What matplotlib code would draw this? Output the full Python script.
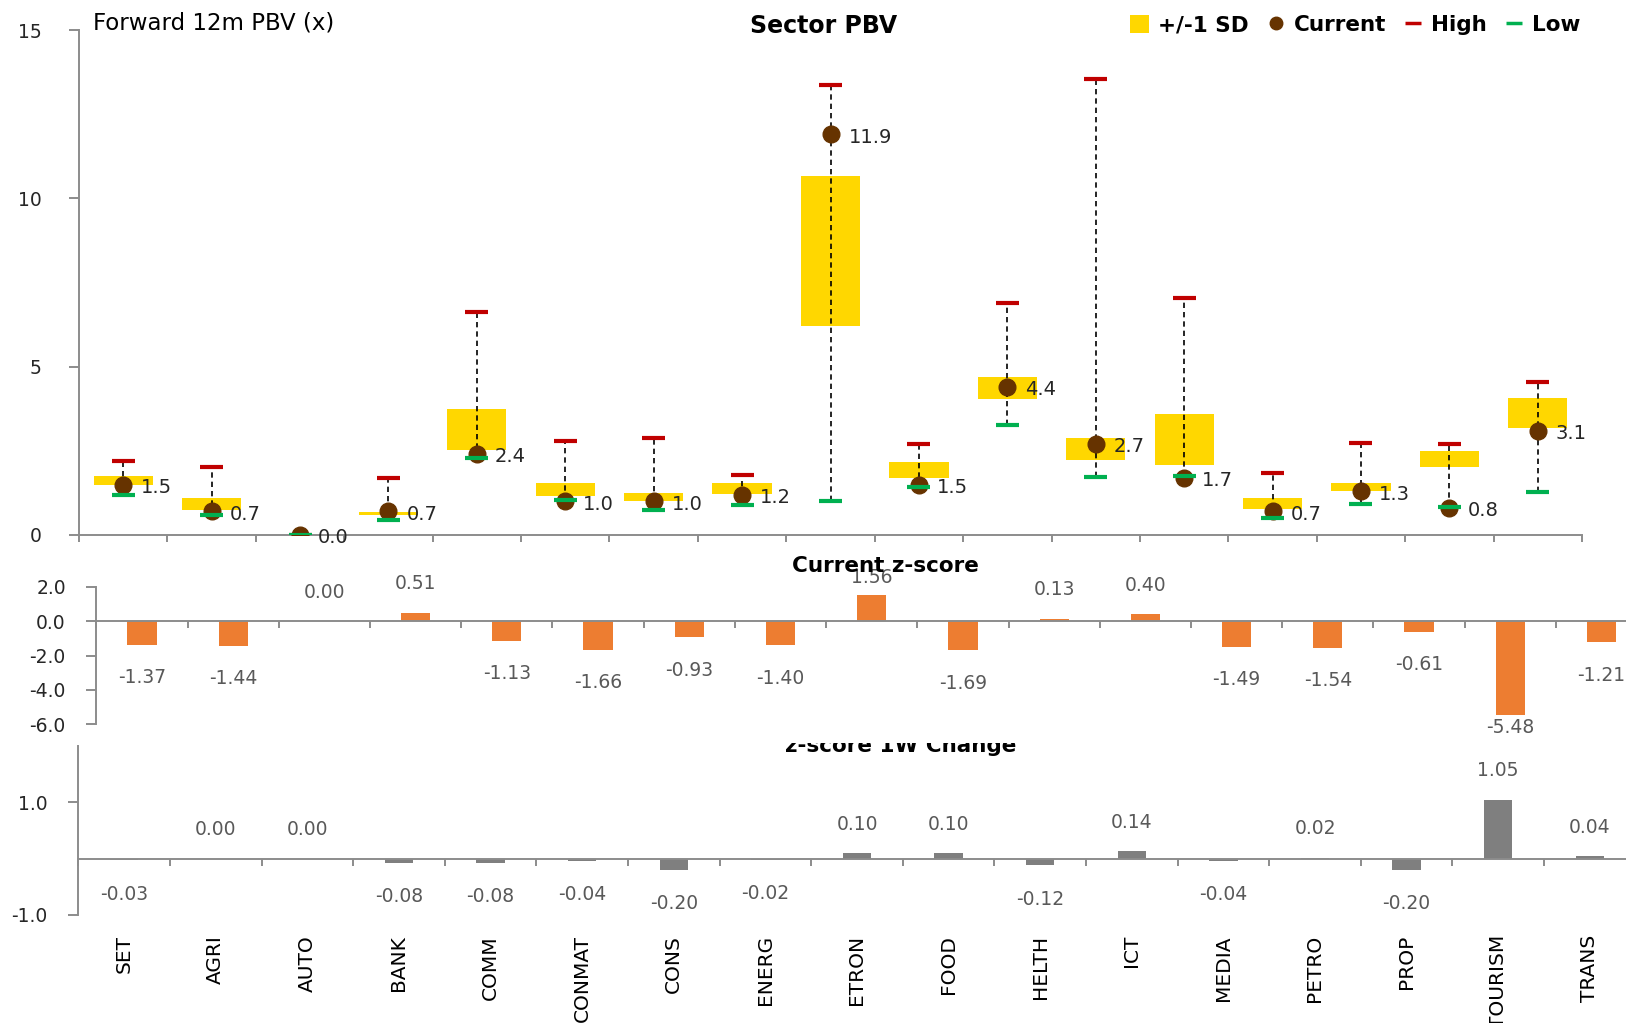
import numpy as np
import matplotlib
matplotlib.use("Agg")
import matplotlib.pyplot as plt
from matplotlib.patches import Patch, Rectangle
from matplotlib.lines import Line2D

plt.rcParams['font.family'] = ['DejaVu Sans']

sectors = ['SET', 'AGRI', 'AUTO', 'BANK', 'COMM', 'CONMAT', 'CONS', 'ENERG', 'ETRON',
           'FOOD', 'HELTH', 'ICT', 'MEDIA', 'PETRO', 'PROP', 'TOURISM', 'TRANS']

# forward 12m PBV: current, historical high/low and the +/-1 SD band
pbv_current = [1.5, 0.7, 0.0, 0.7, 2.4, 1.0, 1.0, 1.2, 11.9, 1.5, 4.4, 2.7, 1.7, 0.7, 1.3, 0.8, 3.1]
pbv_high = [2.20, 2.01, 0.0, 1.68, 6.62, 2.78, 2.87, 1.78, 13.36, 2.69, 6.88, 13.55, 7.04, 1.83, 2.73, 2.69, 4.55]
pbv_low = [1.18, 0.60, 0.0, 0.46, 2.28, 1.03, 0.73, 0.88, 1.02, 1.42, 3.27, 1.72, 1.75, 0.51, 0.93, 0.84, 1.27]
sd_upper = [1.74, 1.11, 0.0, 0.67, 3.75, 1.54, 1.26, 1.54, 10.65, 2.16, 4.69, 2.88, 3.60, 1.11, 1.54, 2.50, 4.08]
sd_lower = [1.49, 0.74, 0.0, 0.59, 2.51, 1.17, 1.02, 1.21, 6.20, 1.70, 4.05, 2.23, 2.07, 0.78, 1.31, 2.03, 3.17]

zscore = [-1.37, -1.44, 0.00, 0.51, -1.13, -1.66, -0.93, -1.40, 1.56, -1.69, 0.13, 0.40,
          -1.49, -1.54, -0.61, -5.48, -1.21]
zscore_1w = [-0.03, 0.00, 0.00, -0.08, -0.08, -0.04, -0.20, -0.02, 0.10, 0.10, -0.12, 0.14,
             -0.04, 0.02, -0.20, 1.05, 0.04]

YELLOW = '#FFD700'
BROWN = '#663300'
RED = '#C00000'
GREEN = '#00B050'
ORANGE = '#ED7D31'
GREY_BAR = '#7F7F7F'
AXIS = '#8C8C8C'
LABEL = '#595959'

W, H = 1626, 1023


def place(x0, x1, ytop, ybot):
    return [x0 / W, 1 - ybot / H, (x1 - x0) / W, (ybot - ytop) / H]


def style_axis(ax, yticks, fmt):
    for s in ['top', 'right']:
        ax.spines[s].set_visible(False)
    for s in ['left', 'bottom']:
        ax.spines[s].set_color(AXIS)
        ax.spines[s].set_linewidth(1.4)
    ax.set_facecolor('none')
    ax.set_xlim(-0.5, len(sectors) - 0.5)
    ax.set_yticks(yticks)
    ax.set_yticklabels([fmt.format(v) for v in yticks])
    ax.tick_params(axis='y', length=7, width=1.4, color=AXIS, pad=15,
                   labelsize=13.5, labelcolor='#262626')
    ax.set_xticks(np.arange(-0.5, len(sectors)), minor=True)
    ax.tick_params(axis='x', which='minor', length=5, width=1.4, color=AXIS)


x = np.arange(len(sectors))

fig = plt.figure(figsize=(W / 100, H / 100), dpi=100)

# ---- z-score 1W change
ax3 = fig.add_axes(place(78.4, 1635.6, 746, 915))
ax3.bar(x, zscore_1w, width=0.31, color=GREY_BAR, zorder=2)
style_axis(ax3, [-1.0, 1.0], '{:.1f}')
ax3.set_ylim(-1, 2)
ax3.spines['bottom'].set_position(('data', 0))
ax3.set_xticks(x)
ax3.set_xticklabels(sectors, rotation=90, family=['Liberation Sans Narrow', 'DejaVu Sans'],
                    fontsize=14.5)
ax3.tick_params(axis='x', which='major', length=0, pad=55)
for xi, v in zip(x, zscore_1w):
    yl = v + 0.51 if v >= 0 else v - 0.60
    ax3.text(xi, yl, f'{v:.2f}', ha='center', va='center', fontsize=13.5, color=LABEL,
             clip_on=False)

t3 = fig.text(901 / W, 1 - 752 / H, 'z-score 1W Change', ha='center', va='baseline',
              fontsize=15.5, fontweight='bold')
t3.set_clip_path(Rectangle((0, 0), 1, 1 - 743 / H, transform=fig.transFigure))

# ---- current z-score
ax2 = fig.add_axes(place(96.4, 1647, 587, 724))
ax2.bar(x, zscore, width=0.32, color=ORANGE, zorder=2)
style_axis(ax2, [2.0, 0.0, -2.0, -4.0, -6.0], '{:.1f}')
ax2.set_ylim(-6, 2)
ax2.spines['bottom'].set_position(('data', 0))
ax2.set_xticks([])
for xi, v in zip(x, zscore):
    yl = min(v + 1.70, 2.57) if v >= 0 else max(v - 1.93, -6.2)
    ax2.text(xi, yl, f'{v:.2f}', ha='center', va='center', fontsize=13.5, color=LABEL,
             clip_on=False)
fig.text(885 / W, 1 - 572 / H, 'Current z-score', ha='center', va='baseline',
         fontsize=15.5, fontweight='bold')

# ---- sector PBV range
ax1 = fig.add_axes(place(79, 1582, 30, 535))
ax1.bar(x, np.subtract(sd_upper, sd_lower), bottom=sd_lower, width=0.67, color=YELLOW,
        zorder=2)
ax1.vlines(x, pbv_low, pbv_high, colors='black', linestyles=(0, (3.2, 2.4)), lw=1.2, zorder=3)
ax1.plot(x, pbv_current, 'o', color=BROWN, ms=12, zorder=4)
ax1.hlines(pbv_high, x - 0.13, x + 0.13, colors=RED, lw=3, zorder=5)
ax1.hlines(pbv_low, x - 0.13, x + 0.13, colors=GREEN, lw=3, zorder=5)
for xi, v in zip(x, pbv_current):
    ax1.annotate(f'{v:.1f}', (xi, v), xytext=(13, -2), textcoords='offset points',
                 ha='left', va='center', fontsize=14, color='#262626')
style_axis(ax1, [0, 5, 10, 15], '{:d}')
ax1.set_ylim(0, 15)
ax1.set_xticks([])
ax1.tick_params(axis='y', pad=20)

fig.text(93 / W, 1 - 30 / H, 'Forward 12m PBV (x)', ha='left', va='baseline', fontsize=16.5)
fig.text(824 / W, 1 - 33 / H, 'Sector PBV', ha='center', va='baseline', fontsize=17,
         fontweight='bold')

handles = [Patch(facecolor=YELLOW),
           Line2D([], [], ls='', marker='o', color=BROWN, ms=9),
           Line2D([], [], ls='', marker='_', mec=RED, ms=11, mew=2.5),
           Line2D([], [], ls='', marker='_', mec=GREEN, ms=11, mew=2.5)]
fig.legend(handles, ['+/-1 SD', 'Current', 'High', 'Low'], loc='center left',
           bbox_to_anchor=(1130 / W, 1 - 25 / H), ncol=4, frameon=False,
           prop=dict(weight='bold', size=15.5), handlelength=0.9, handleheight=0.9,
           handletextpad=0.4, columnspacing=0.8, borderpad=0, borderaxespad=0)

fig.savefig('out.png', dpi=100)
